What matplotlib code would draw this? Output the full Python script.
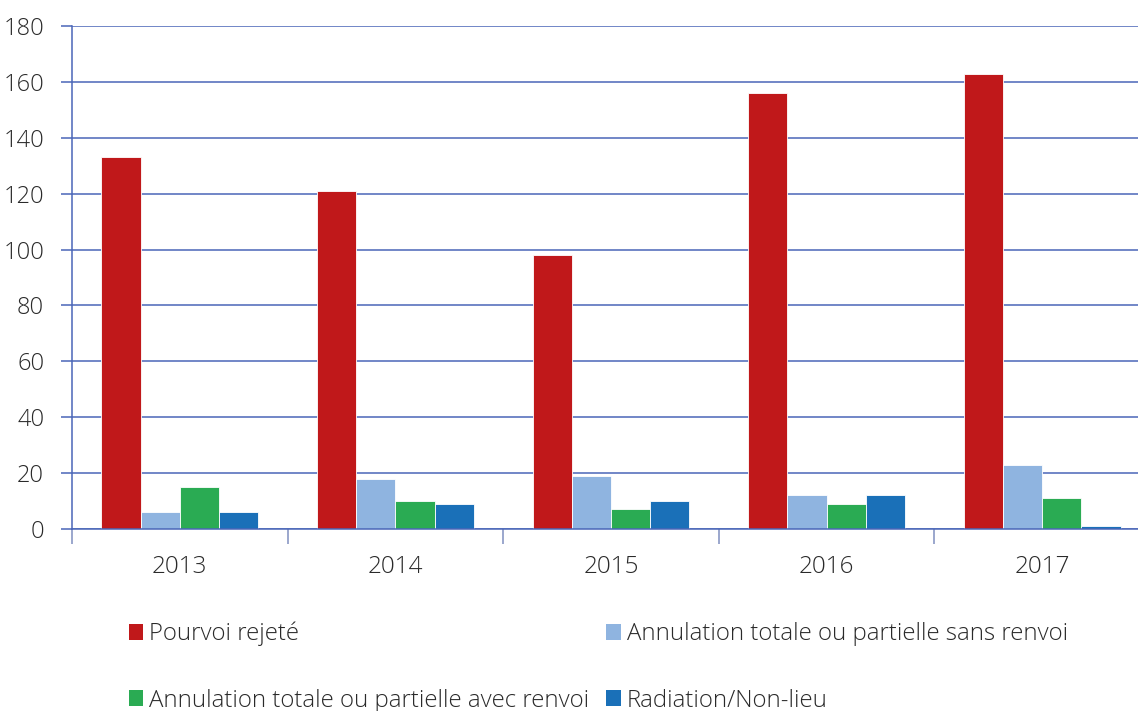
import matplotlib
matplotlib.use("Agg")
import matplotlib.pyplot as plt
import numpy as np
from matplotlib.patches import Patch

years = ["2013", "2014", "2015", "2016", "2017"]
series_names = [
    "Pourvoi rejeté",
    "Annulation totale ou partielle sans renvoi",
    "Annulation totale ou partielle avec renvoi",
    "Radiation/Non-lieu",
]
pourvoi_rejete = [133, 121, 98, 156, 163]
sans_renvoi = [6, 18, 19, 12, 23]
avec_renvoi = [15, 10, 7, 9, 11]
radiation = [6, 9, 10, 12, 1]
colors = ["#C0181A", "#8FB4E0", "#2AAB53", "#1A70B8"]
yticks = [0, 20, 40, 60, 80, 100, 120, 140, 160, 180]

plt.rcParams['font.family'] = ['Open Sans', 'DejaVu Sans']
plt.rcParams['font.weight'] = 'light'

W, H = 1138, 711
fig = plt.figure(figsize=(W / 100, H / 100), dpi=100)
left = 72 / W
right = 1150 / W
bottom = 1 - 529 / H
top = 1 - 26 / H
ax = fig.add_axes([left, bottom, right - left, top - bottom])

grid_c = "#4A66B8"
txt_c = "#2A2A2A"
x = np.arange(len(years))
bw = 0.182
all_series = [pourvoi_rejete, sans_renvoi, avec_renvoi, radiation]
handles = []
for i, (vals, c, name) in enumerate(zip(all_series, colors, series_names)):
    offs = (i - 1.5) * bw
    ax.bar(x + offs, vals, width=bw, color=c, edgecolor="white", linewidth=0.6, zorder=3, label=name)
    handles.append(Patch(facecolor=c, edgecolor="none", label=name))

ax.set_xlim(-0.5, 4.5)
ax.set_ylim(0, 180)
ax.set_yticks(yticks)
ax.set_yticklabels([str(v) for v in yticks], fontsize=17, color=txt_c, fontweight="light")
ax.yaxis.grid(True, color=grid_c, linewidth=1.1, zorder=0)
ax.tick_params(axis="y", length=8, color=grid_c, width=1.1, pad=12)

ax.set_xticks(x)
ax.set_xticklabels(years, fontsize=17.5, color=txt_c, fontweight="light")
ax.set_xticks(np.arange(-0.5, 5.0, 1.0), minor=True)
ax.tick_params(axis="x", which="major", length=0, pad=19)
ax.tick_params(axis="x", which="minor", length=11, color="#8090C0", width=1.1)

for s in ["top", "right"]:
    ax.spines[s].set_visible(False)
ax.spines["left"].set_color(grid_c)
ax.spines["bottom"].set_color(grid_c)
ax.spines["left"].set_linewidth(1.1)
ax.spines["bottom"].set_linewidth(1.1)
ax.spines["left"].set_zorder(4)
ax.spines["bottom"].set_zorder(4)

order = [handles[0], handles[2], handles[1], handles[3]]
leg = fig.legend(handles=order, ncol=2, loc="upper left",
                 bbox_to_anchor=(129 / W, 1 - 622 / H),
                 frameon=False, prop={"size": 17.3, "weight": "light"},
                 handlelength=0.6, handleheight=0.6,
                 handletextpad=0.25, columnspacing=0.7, labelspacing=1.75,
                 borderaxespad=0, borderpad=0)
for t in leg.get_texts():
    t.set_color(txt_c)

fig.savefig("out.png", dpi=100)
